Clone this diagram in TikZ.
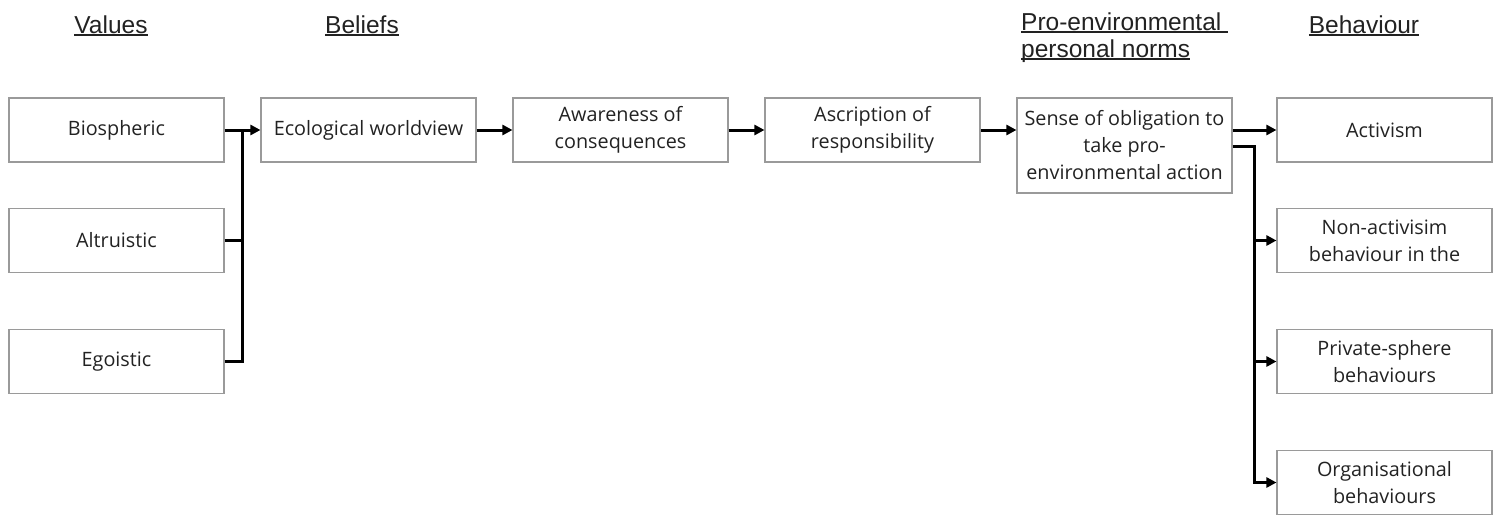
\documentclass[tikz,border=0pt]{standalone}
\usepackage{fontspec}
\setmainfont{Open Sans}
\newfontfamily\headfont{Liberation Sans}
\usetikzlibrary{arrows.meta}
\definecolor{boxline}{HTML}{9A9A9A}
\definecolor{ink}{HTML}{222222}
% underline drawn just below the baseline, through descenders
\newcommand\headline[1]{\setbox0\hbox{#1}\rlap{\rule[-3pt]{\wd0}{1.6pt}}\box0}
\begin{document}
\begin{tikzpicture}[x=1pt,y=-1pt,
  box/.style={draw=boxline,line width=1.1pt,minimum width=215pt,minimum height=64pt,
    inner sep=2pt,align=center,text=ink,font=\fontsize{19.8}{27}\selectfont},
  head/.style={inner sep=0pt,anchor=base,text=ink,font=\headfont\fontsize{24.5}{27}\selectfont},
  link/.style={line width=3pt},
  arr/.style={link,-{Triangle[length=10pt,width=10pt]}}]
\useasboundingbox (0,0) rectangle (1499,514);

% column headings
\node[head] (hval) at (111,33) {\headline{Values}};
\node[head] (hbel) at (362,33) {\headline{Beliefs}};
\node[head,anchor=base west] (hpn1) at (1021,30) {\headline{Pro-environmental\ }};
\node[head,anchor=base west] (hpn2) at (1021,57) {\headline{personal norms}};
\node[head] (hbeh) at (1364,33) {\headline{Behaviour}};

% values
\node[box] (bio) at (116.5,130) {Biospheric};
\node[box] (alt) at (116.5,240.5) {Altruistic};
\node[box] (ego) at (116.5,361.5) {Egoistic};

% chain
\node[box] (eco) at (368.5,130) {Ecological worldview};
\node[box] (awa) at (620.5,130) {Awareness of\\consequences};
\node[box] (asc) at (872.5,130) {Ascription of\\responsibility};
\node[box,minimum height=95pt] (sen) at (1124.5,145.5) {Sense of obligation to\\take pro-\\environmental action};

% behaviours
\node[box] (act) at (1384.5,130) {Activism};
\node[box] (non) at (1384.5,240.5) {Non-activisim\\behaviour in the};
\node[box] (pri) at (1384.5,361.5) {Private-sphere\\behaviours};
\node[box] (org) at (1384.5,482.5) {Organisational\\behaviours};

% values merge into the worldview
\coordinate (vbus) at (242,0);
\draw[arr] (bio.east) -- (eco.west);
\draw[link] (alt.east) -- (alt.east -| vbus);
\draw[link] (ego.east) -| (vbus |- bio.east);

\draw[arr] (eco.east) -- (awa.west);
\draw[arr] (awa.east) -- (asc.west);
\draw[arr] (asc.east) -- (sen.west |- asc.east);

% norms branch out to behaviours
\draw[arr] (act.west -| sen.east) -- (act.west);
\coordinate (bbus) at (1254,146);
\draw[arr] (sen.east |- bbus) -| (bbus) |- (org.west);
\draw[arr] (bbus |- non.west) -- (non.west);
\draw[arr] (bbus |- pri.west) -- (pri.west);
\end{tikzpicture}
\end{document}
